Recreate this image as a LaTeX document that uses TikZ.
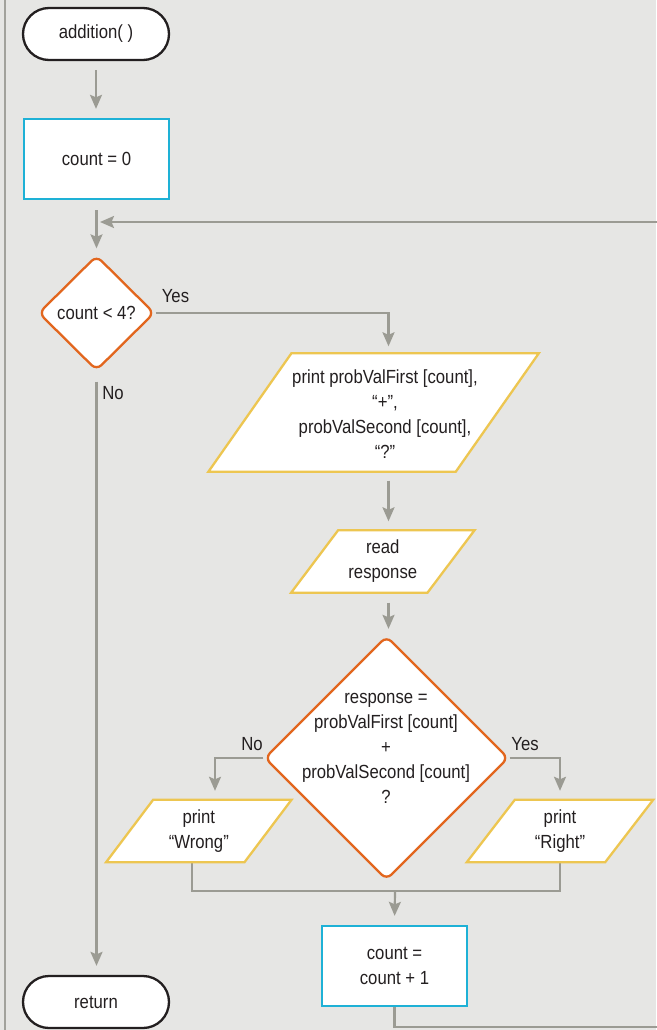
\documentclass[tikz,border=0pt]{standalone}
\usepackage{fontspec}
\setmainfont{Liberation Sans}[FakeStretch=0.88]
\usetikzlibrary{shapes.geometric,arrows.meta,calc}

\definecolor{paper}{HTML}{E6E6E4}
\definecolor{conn}{HTML}{9B9B93}
\definecolor{frameline}{HTML}{A2A29C}
\definecolor{cyanb}{HTML}{1EB1D6}
\definecolor{orangeb}{HTML}{E2661E}
\definecolor{yellowb}{HTML}{EDC651}
\definecolor{ink}{HTML}{231F20}

\pgfdeclarelayer{back}
\pgfdeclarelayer{shapes}
\pgfsetlayers{back,shapes,main}

\tikzset{
  base/.style={text=ink, font=\fontsize{19}{25}\selectfont, align=center},
  terminal/.style={base, draw=ink, line width=2.3pt, fill=white,
    rounded corners=26pt, minimum width=146pt, minimum height=52pt, inner sep=0pt},
  process/.style={base, draw=cyanb, line width=2.3pt, fill=white,
    minimum width=145pt, minimum height=80pt, inner sep=0pt},
  decision/.style={base, diamond, draw=orangeb, line width=2.3pt, fill=white,
    rounded corners=7pt, inner sep=0pt},
  iotext/.style={base, inner sep=0pt},
  ioshape/.style={draw=yellowb, line width=2.3pt, fill=white, line join=miter},
  plain/.style={base},
  lbl/.style={base, inner sep=0pt},
  flow/.style={draw=conn, line width=2.2pt},
  flowarrow/.style={flow, -{Stealth[length=14pt,width=12pt,inset=2.5pt]}},
}

% parallelogram around a node: #1 node name, #2 half of the horizontal slant
\newcommand\ioframe[2]{%
  \path[ioshape] ($(#1.north west)+(#2,0)$) -- ($(#1.north east)+(#2,0)$)
    -- ($(#1.south east)-(#2,0)$) -- ($(#1.south west)-(#2,0)$) -- cycle;}

\begin{document}
\begin{tikzpicture}[x=1pt,y=-1pt]
  \useasboundingbox (0,0) rectangle (656,1030);
  \clip (0,0) rectangle (656,1030);

  % nodes of the flowchart
  \node[terminal] (start) at (96,34) {addition( )};
  \node[process] (init) at (96.5,159) {count = 0};
  \node[decision, minimum width=116pt, minimum height=115pt] (d1) at (96.5,313) {count < 4?};

  \node[iotext, minimum width=247pt, minimum height=118pt] (p1) at (373.6,412.5) {};
  \node[plain] (p1t) at (385,414) {print probValFirst [count],\\“+”,\\probValSecond [count],\\“?”};

  \node[iotext, minimum width=136pt, minimum height=62pt] (rd) at (382.8,561.5) {read\\response};

  \node[decision, minimum width=244pt, minimum height=244pt] (d2) at (386.5,758) {};
  \node[plain] (d2t) at (386,748) {response =\\probValFirst [count]\\+\\probValSecond [count]\\?};

  \node[iotext, minimum width=138pt, minimum height=62pt] (pw) at (198.8,831) {print\\“Wrong”};
  \node[iotext, minimum width=138pt, minimum height=62pt] (pr) at (560,831) {print\\“Right”};

  \node[process] (inc) at (394.5,966) {count =\\count + 1};
  \node[terminal] (ret) at (96,1002) {return};

  % branch labels
  \node[lbl] (yes1) at (175.5,296) {Yes};
  \node[lbl] (no1) at (113,393) {No};
  \node[lbl] (no2) at (252,744) {No};
  \node[lbl] (yes2) at (525,744) {Yes};

  % helper coordinates for the connector columns
  \coordinate (colx) at (388.5,0);
  \coordinate (nox) at (215,0);
  \coordinate (wx) at (192,0);
  \coordinate (merge) at (395,891);
  \coordinate (loopR) at (660,1027);
  \coordinate (loopin) at (100,222);

  % input/output parallelograms
  \begin{pgfonlayer}{shapes}
    \ioframe{p1}{41.5}
    \ioframe{rd}{23.5}
    \ioframe{pw}{23.5}
    \ioframe{pr}{24}
  \end{pgfonlayer}

  \begin{pgfonlayer}{back}
    \fill[paper] (0,0) rectangle (656,1030);
    \draw[line width=2pt, frameline] (5,0) -- (5,1030);

    \draw[flowarrow, shorten <=9pt, shorten >=9pt] (start.south) -- (start.south |- init.north);
    \draw[flowarrow, shorten <=10pt, shorten >=6pt] (init.south) -- (init.south |- d1.north);
    \draw[flowarrow, shorten >=7pt] (d1.east) -| (p1.north -| colx);
    \draw[flowarrow, shorten <=10pt, shorten >=9pt] (d1.south) -- (d1.south |- ret.north);
    \draw[flowarrow, shorten <=9pt, shorten >=9pt] (p1.south -| colx) -- (rd.north -| colx);
    \draw[flowarrow, shorten <=10pt, shorten >=6pt] (rd.south -| colx) -- (d2.north -| colx);
    \draw[flowarrow, shorten >=9pt] (d2.west) -| (pw.north -| nox);
    \draw[flowarrow, shorten >=9pt] (d2.east) -| (pr.north);
    \draw[flow] (pw.south -| wx) |- (merge) -| (pr.south);
    \draw[flowarrow, shorten >=9pt] (merge) -- (inc.north);
    \draw[flowarrow] (inc.south) |- (loopR) |- (loopin);
  \end{pgfonlayer}
\end{tikzpicture}
\end{document}
